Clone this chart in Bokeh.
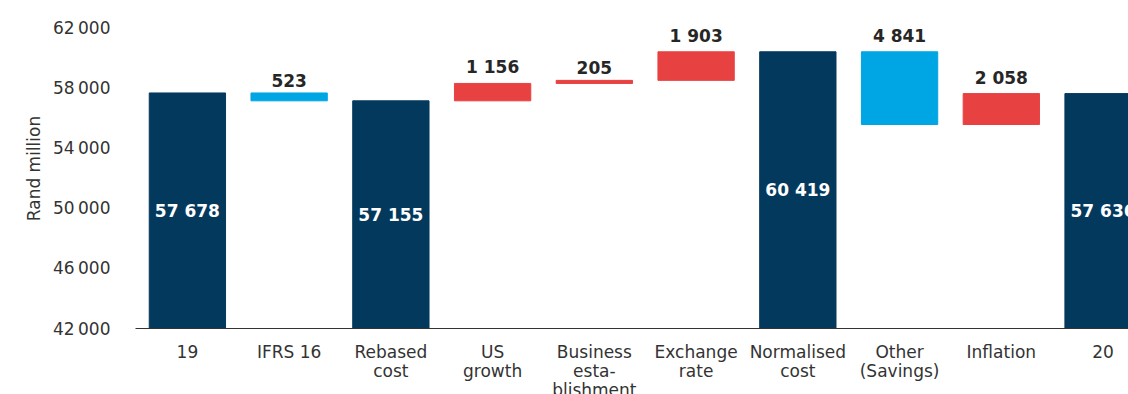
from bokeh.plotting import figure
from bokeh.models import Range1d, FixedTicker, ColumnDataSource
from bokeh.core.properties import value
from bokeh.embed import file_html
from bokeh.resources import INLINE

# ---- data ----
categories = ["19", "IFRS 16", "Rebased\ncost", "US\ngrowth", "Business\nesta-\nblishment",
              "Exchange\nrate", "Normalised\ncost", "Other\n(Savings)", "Inflation", "20"]
amounts = [57678, -523, 57155, 1156, 205, 1903, 60419, -4841, 2058, 57636]
is_total = [True, False, True, False, False, False, True, False, False, True]
y_ticks = [42000, 46000, 50000, 54000, 58000, 62000]

NAVY = "#04395E"
LIGHT = "#00A5E3"
RED = "#E84142"
TEXT = "#262626"
FONT = "DejaVu Sans"

Y0 = 42000
Y1 = 63300


def fmt(v, sep=" "):
    return f"{abs(v):,}".replace(",", sep)


xs, bottoms, tops, colors = [], [], [], []
running = 0
for i, (v, t) in enumerate(zip(amounts, is_total)):
    xs.append(i)
    if t:
        bottoms.append(Y0)
        tops.append(v)
        colors.append(NAVY)
        running = v
    else:
        end = running + v
        bottoms.append(min(running, end))
        tops.append(max(running, end))
        colors.append(RED if v > 0 else LIGHT)
        running = end

bars = ColumnDataSource(dict(x=xs, bottom=bottoms, top=tops, color=colors))

tot_src = ColumnDataSource(dict(
    x=[x for x, t in zip(xs, is_total) if t],
    y=[(Y0 + tp) / 2 for tp, t in zip(tops, is_total) if t],
    text=[fmt(v) for v, t in zip(amounts, is_total) if t],
))
chg_src = ColumnDataSource(dict(
    x=[x for x, t in zip(xs, is_total) if not t],
    y=[tp for tp, t in zip(tops, is_total) if not t],
    text=[fmt(v) for v, t in zip(amounts, is_total) if not t],
))

p = figure(frame_width=993, frame_height=320, output_backend="svg", toolbar_location=None,
           x_range=Range1d(-0.51, 9.25), y_range=Range1d(Y0, Y1),
           min_border_left=135, min_border_right=0, min_border_top=8, min_border_bottom=0)
p.outline_line_color = None
p.xgrid.grid_line_color = None
p.ygrid.grid_line_color = None
p.background_fill_color = "white"
p.border_fill_color = "white"

p.vbar(x="x", bottom="bottom", top="top", width=0.75, color="color", source=bars)

p.text(x="x", y="y", text="text", source=tot_src, text_color="white",
       text_font=value(FONT), text_font_style="bold", text_font_size="17px",
       text_align="center", text_baseline="middle")
p.text(x="x", y="y", text="text", source=chg_src, text_color=TEXT,
       text_font=value(FONT), text_font_style="bold", text_font_size="17px",
       text_align="center", text_baseline="bottom", y_offset=-6)

# x axis
p.xaxis.ticker = FixedTicker(ticks=xs)
p.xaxis.major_label_overrides = {i: c for i, c in enumerate(categories)}
p.xaxis.major_tick_line_color = None
p.xaxis.minor_tick_line_color = None
p.xaxis.axis_line_color = "#333333"
p.xaxis.axis_line_width = 1
p.xaxis.major_label_text_font = FONT
p.xaxis.major_label_text_font_size = "17px"
p.xaxis.major_label_text_color = "#333333"
p.xaxis.major_label_text_line_height = 0.95
p.xaxis.major_label_standoff = 7

# y axis
p.yaxis.ticker = FixedTicker(ticks=y_ticks)
p.yaxis.major_label_overrides = {t: fmt(t, "\u2009") for t in y_ticks}
p.yaxis.axis_line_color = None
p.yaxis.major_tick_line_color = None
p.yaxis.minor_tick_line_color = None
p.yaxis.major_label_text_font = FONT
p.yaxis.major_label_text_font_size = "17px"
p.yaxis.major_label_text_color = "#333333"
p.yaxis.major_label_standoff = 19
p.yaxis.axis_label = "Rand million"
p.yaxis.axis_label_text_font = FONT
p.yaxis.axis_label_text_font_size = "17px"
p.yaxis.axis_label_text_font_style = "normal"
p.yaxis.axis_label_text_color = "#333333"
p.yaxis.axis_label_standoff = 6

open("out.html", "w").write(file_html(p, INLINE))
